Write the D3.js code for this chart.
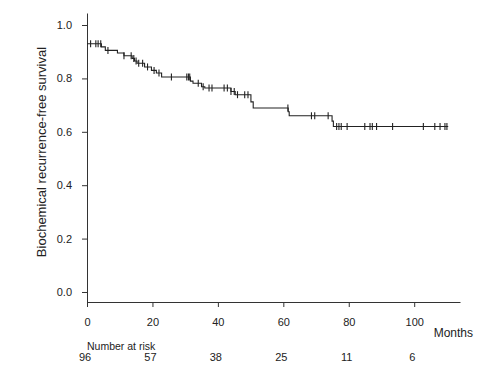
<!DOCTYPE html>
<html>
<head>
<meta charset="utf-8">
<script src="https://cdn.jsdelivr.net/npm/d3@7"></script>
<style>
  body { margin: 0; background: #fff; }
  svg text { font-family: "Liberation Sans", Arial, sans-serif; fill: #222; }
</style>
</head>
<body>
<svg id="chart" width="496" height="382"></svg>
<script>
// step times (months) and survival after each step
var stepTimes = [0, 4.4, 5.6, 9.3, 11.3, 13.8, 14.5, 15.3, 17.6, 19.7, 21.2, 22.8,
  31.6, 32.4, 35.0, 36.0, 44.0, 45.3, 50.1, 50.8, 61.5, 61.8, 74.9, 75.3];
var stepSurv = [0.93, 0.918, 0.905, 0.895, 0.885, 0.875, 0.865, 0.857, 0.843, 0.83, 0.82, 0.805,
  0.79, 0.782, 0.769, 0.764, 0.751, 0.739, 0.712, 0.689, 0.675, 0.66, 0.64, 0.62];
var lastTime = 110.4;

// censored observations (months)
var censorTimes = [1.1, 2.7, 3.4, 4.2, 6.4, 11.3, 13.5, 14.3, 15, 15.8, 17, 18.5, 20.5, 22,
  25.8, 30.5, 31, 31.4, 34, 35.5, 37.3, 38.2, 41.9, 42.9, 44.0, 45.0, 46, 48.2, 49.2,
  61.4, 68.6, 69.6, 73.7, 76.3, 77, 77.7, 79.5, 84.9, 86.5, 87.2, 88.5, 93.4,
  102.8, 106.3, 107.9, 109.4, 110];

var xTicks = [0, 20, 40, 60, 80, 100];
var yTicks = [0, 0.2, 0.4, 0.6, 0.8, 1.0];
var riskTimes = [0, 20, 40, 60, 80, 100];
var riskCounts = [96, 57, 38, 25, 11, 6];

var svg = d3.select("#chart");

var xScale = d3.scaleLinear().domain([0, 114]).range([87, 460]);
var yScale = d3.scaleLinear().domain([-0.0375, 1.045]).range([302, 13]);

// axes
var xAxis = d3.axisBottom(xScale).tickValues(xTicks).tickFormat(d3.format("d"))
  .tickSizeInner(5).tickSizeOuter(0).tickPadding(11);
var gx = svg.append("g").attr("transform", "translate(0,302)").call(xAxis);

var yAxis = d3.axisLeft(yScale).tickValues(yTicks).tickFormat(d3.format(".1f"))
  .tickSizeInner(5).tickSizeOuter(0).tickPadding(10);
var gy = svg.append("g").attr("transform", "translate(87,0)").call(yAxis);

[gx, gy].forEach(function (g) {
  g.selectAll("path, line").attr("stroke", "#333");
  g.selectAll("text").style("font-size", "11px").attr("fill", "#222");
});

// y label
svg.append("text")
  .attr("transform", "translate(46,152) rotate(-90)")
  .attr("text-anchor", "middle")
  .style("font-size", "13px")
  .text("Biochemical recurrence-free survival");

// x label
svg.append("text")
  .attr("x", 473).attr("y", 337)
  .attr("text-anchor", "end")
  .style("font-size", "12px")
  .text("Months");

// number at risk
svg.append("text")
  .attr("x", 87).attr("y", 350)
  .style("font-size", "10.5px")
  .text("Number at risk");

svg.append("g").selectAll("text")
  .data(riskTimes)
  .enter()
  .append("text")
  .attr("x", function (d) { return xScale(d) - 2; })
  .attr("y", 361)
  .attr("text-anchor", "middle")
  .style("font-size", "11px")
  .text(function (d, i) { return riskCounts[i]; });

// KM curve
var pts = stepTimes.map(function (t, i) { return [t, stepSurv[i]]; });
pts.push([lastTime, stepSurv[stepSurv.length - 1]]);
var line = d3.line()
  .x(function (d) { return xScale(d[0]); })
  .y(function (d) { return yScale(d[1]); })
  .curve(d3.curveStepAfter);

svg.append("path")
  .datum(pts)
  .attr("fill", "none")
  .attr("stroke", "#222")
  .attr("stroke-width", 1.1)
  .attr("d", line);

// censor marks
var survAt = function (t) {
  var i = d3.bisectRight(stepTimes, t) - 1;
  return stepSurv[Math.max(0, i)];
};

svg.append("g").selectAll("line")
  .data(censorTimes)
  .enter()
  .append("line")
  .attr("x1", function (d) { return xScale(d); })
  .attr("x2", function (d) { return xScale(d); })
  .attr("y1", function (d) { return yScale(survAt(d)) - 3.5; })
  .attr("y2", function (d) { return yScale(survAt(d)) + 3.5; })
  .attr("stroke", "#222")
  .attr("stroke-width", 1.1);
</script>
</body>
</html>
